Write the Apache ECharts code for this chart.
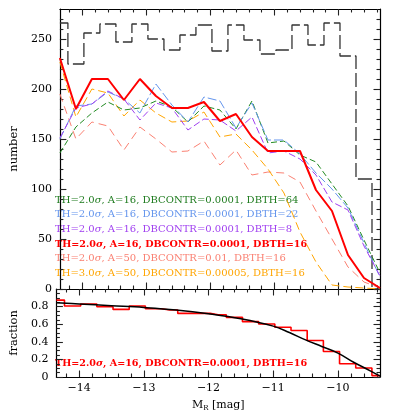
<!DOCTYPE html>
<html>
<head>
<meta charset="utf-8">
<script src="https://cdn.jsdelivr.net/npm/echarts@6/dist/echarts.min.js"></script>
<style>
html, body { margin: 0; padding: 0; background: #fff; }
#chart { width: 415px; height: 415px; }
</style>
</head>
<body>
<div id="chart"></div>
<script>
// bin centres in M_R, 0.25 mag bins
const magBins = [-14.35, -14.10, -13.85, -13.60, -13.35, -13.10, -12.85, -12.60, -12.35, -12.10,
  -11.85, -11.60, -11.35, -11.10, -10.85, -10.60, -10.35, -10.10, -9.85, -9.60, -9.35];

// top panel: numbers per bin
const inputCounts = [266, 225, 256, 265, 247, 265, 250, 239, 254, 264, 238, 264, 249, 235, 239, 264, 244, 266, 233, 110, 0];
const dbth64 = [136, 162, 176, 187, 179, 181, 188, 182, 167, 183, 179, 160, 188, 146, 148, 134, 127, 105, 83, 49, 16];
const dbth22 = [150, 183, 185, 197, 190, 176, 205, 184, 167, 192, 188, 161, 186, 149, 149, 135, 116, 100, 81, 46, 12];
const dbth8 = [151, 181, 185, 198, 190, 169, 186, 181, 159, 170, 169, 158, 172, 136, 138, 130, 114, 87, 79, 43, 13];
const dbth16 = [231, 180, 210, 210, 189, 210, 193, 181, 181, 187, 168, 175, 152, 138, 138, 138, 99, 78, 34, 11, 1];
const a50 = [195, 150, 167, 163, 139, 162, 150, 137, 138, 148, 124, 139, 114, 117, 116, 107, 78, 50, 22, 7, 1];
const th3 = [227, 172, 200, 196, 173, 189, 176, 167, 168, 177, 152, 155, 139, 120, 96, 57, 27, 4, 2, 1, 0];

// bottom panel: recovered fraction + fitted curve
const fraction = [0.874, 0.806, 0.829, 0.799, 0.768, 0.806, 0.776, 0.761, 0.723, 0.723, 0.708,
  0.678, 0.629, 0.603, 0.565, 0.528, 0.415, 0.290, 0.151, 0.102, 0.016];
const fitMag = [-14.35, -14.0, -13.5, -13.0, -12.5, -12.0, -11.5, -11.0, -10.75, -10.5, -10.25, -10.0, -9.75, -9.5, -9.35];
const fitFrac = [0.845, 0.83, 0.81, 0.79, 0.762, 0.72, 0.663, 0.578, 0.505, 0.422, 0.347, 0.272, 0.165, 0.07, 0.01];

// tick labels
const xMajor = [-14, -13, -12, -11, -10];
const yTopMajor = [0, 50, 100, 150, 200, 250];
const yBotMajor = [0, 0.2, 0.4, 0.6, 0.8, 1];

function minors(lo, hi, step, major) {
  let out = [];
  for (let v = lo; v <= hi + 1e-9; v += step) {
    let r = Math.round(v * 1000) / 1000;
    if (!major.some(m => Math.abs(m - r) < 1e-6)) out.push(r);
  }
  return out;
}
const xMinor = minors(-14.2, -9.4, 0.2, xMajor);
const yTopMinor = minors(10, 270, 10, yTopMajor);
const yBotMinor = minors(0.05, 0.95, 0.05, yBotMajor);

const FONT = 'DejaVu Serif';
const minus = v => String(v).replace('-', '\u2212');

function pairs(xs, ys) { return xs.map((x, i) => [x, ys[i]]); }

function axis(grid, pos, range, ticks, len) {
  return {
    type: 'value', gridIndex: grid, position: pos, min: range[0], max: range[1],
    axisLine: { show: len > 4, onZero: false, lineStyle: { color: '#000', width: 1.2 } },
    axisTick: { inside: true, length: len, customValues: ticks, lineStyle: { color: '#222', width: 1.1 } },
    axisLabel: { show: false },
    splitLine: { show: false }
  };
}

const xr = [-14.35, -9.35];
const xAxes = [], yAxes = [];
[0, 1].forEach(g => {
  xAxes.push(axis(g, 'bottom', xr, xMajor, 6.5));
  xAxes.push(axis(g, 'bottom', xr, xMinor, 3.5));
  xAxes.push(axis(g, 'top', xr, xMajor, 6.5));
  xAxes.push(axis(g, 'top', xr, xMinor, 3.5));
  const yr = g === 0 ? [0, 280] : [0, 1];
  const ymaj = g === 0 ? yTopMajor : yBotMajor;
  const ymin = g === 0 ? yTopMinor : yBotMinor;
  yAxes.push(axis(g, 'left', yr, ymaj, 6.5));
  yAxes.push(axis(g, 'left', yr, ymin, 3.5));
  yAxes.push(axis(g, 'right', yr, ymaj, 6.5));
  yAxes.push(axis(g, 'right', yr, ymin, 3.5));
});

const labelStyle = { show: true, color: '#000', fontFamily: FONT, fontSize: 11 };
// bottom x labels
Object.assign(xAxes[4], {
  axisLabel: Object.assign({}, labelStyle, { customValues: xMajor, margin: 6, formatter: minus }),
  name: '{a|M}{s|R}{a| [mag]}', nameLocation: 'middle', nameGap: 22,
  nameTextStyle: { rich: {
    a: { fontFamily: FONT, fontSize: 11, color: '#000' },
    s: { fontFamily: FONT, fontSize: 7, color: '#000', padding: [6, 0, 0, 0] }
  } }
});
Object.assign(yAxes[0], {
  axisLabel: Object.assign({}, labelStyle, { customValues: yTopMajor, margin: 8 }),
  name: 'number', nameLocation: 'middle', nameGap: 30, nameRotate: 90,
  nameTextStyle: { fontFamily: FONT, fontSize: 11.5, color: '#000' }
});
Object.assign(yAxes[4], {
  axisLabel: Object.assign({}, labelStyle, { customValues: [0, 0.2, 0.4, 0.6, 0.8], margin: 8 }),
  name: 'fraction', nameLocation: 'middle', nameGap: 30, nameRotate: 90,
  nameTextStyle: { fontFamily: FONT, fontSize: 11.5, color: '#000' }
});

function line(data, color, width, dash, extra) {
  return Object.assign({
    type: 'line', xAxisIndex: 0, yAxisIndex: 0, data: data, symbol: 'none',
    lineStyle: { color: color, width: width, type: dash }
  }, extra || {});
}

const series = [
  line(pairs(magBins, inputCounts), '#333', 1.3, [14, 4], { step: 'middle' }),
  line(pairs(magBins, a50), '#FA8072', 1, [8, 5]),
  line(pairs(magBins, th3), '#FFA500', 1, [8, 4]),
  line(pairs(magBins, dbth64), '#228B22', 1, [6, 3]),
  line(pairs(magBins, dbth22), '#6495ED', 1, [9, 3]),
  line(pairs(magBins, dbth8), '#A040F0', 1, [7, 3]),
  line(pairs(magBins, dbth16), '#FF0000', 2, 'solid'),
  line(pairs(magBins, fraction), '#FF0000', 1.6, 'solid', { xAxisIndex: 4, yAxisIndex: 4, step: 'middle' }),
  line(pairs(fitMag, fitFrac), '#000', 1.5, 'solid', { xAxisIndex: 4, yAxisIndex: 4, smooth: 0.4 })
];

const legendRows = [
  ['#1E7B1E', '64', false, '2.0', '16', '0.0001'],
  ['#6495ED', '22', false, '2.0', '16', '0.0001'],
  ['#A040F0', '8', false, '2.0', '16', '0.0001'],
  ['#FF0000', '16', true, '2.0', '16', '0.0001'],
  ['#FA8072', '16', false, '2.0', '50', '0.01'],
  ['#FFA500', '16', false, '3.0', '50', '0.00005']
];

function labelText(r, y) {
  const [color, dbth, bold, th, a, dbc] = r;
  const base = { fontFamily: FONT, fontSize: bold ? 9.6 : 10, fill: color, fontWeight: bold ? 'bold' : 'normal' };
  return {
    type: 'text', x: 55, y: y,
    style: {
      text: '{n|TH=' + th + '}{i|\u03c3}{n|, A=' + a + ', DBCONTR=' + dbc + ', DBTH=' + dbth + '}',
      verticalAlign: 'middle', align: 'left',
      rich: { n: base, i: Object.assign({}, base, { fontStyle: 'italic' }) }
    }
  };
}

const graphic = legendRows.map((r, i) => labelText(r, 200 + i * 14.7));
graphic.push(labelText(legendRows[3], 363));

const chart = echarts.init(document.getElementById('chart'));
chart.setOption({
  animation: false,
  backgroundColor: '#fff',
  grid: [
    { left: 45, top: 9, width: 335, height: 280 },
    { left: 45, top: 289, width: 335, height: 88 }
  ],
  xAxis: xAxes,
  yAxis: yAxes,
  series: series,
  graphic: graphic
});
</script>
</body>
</html>
